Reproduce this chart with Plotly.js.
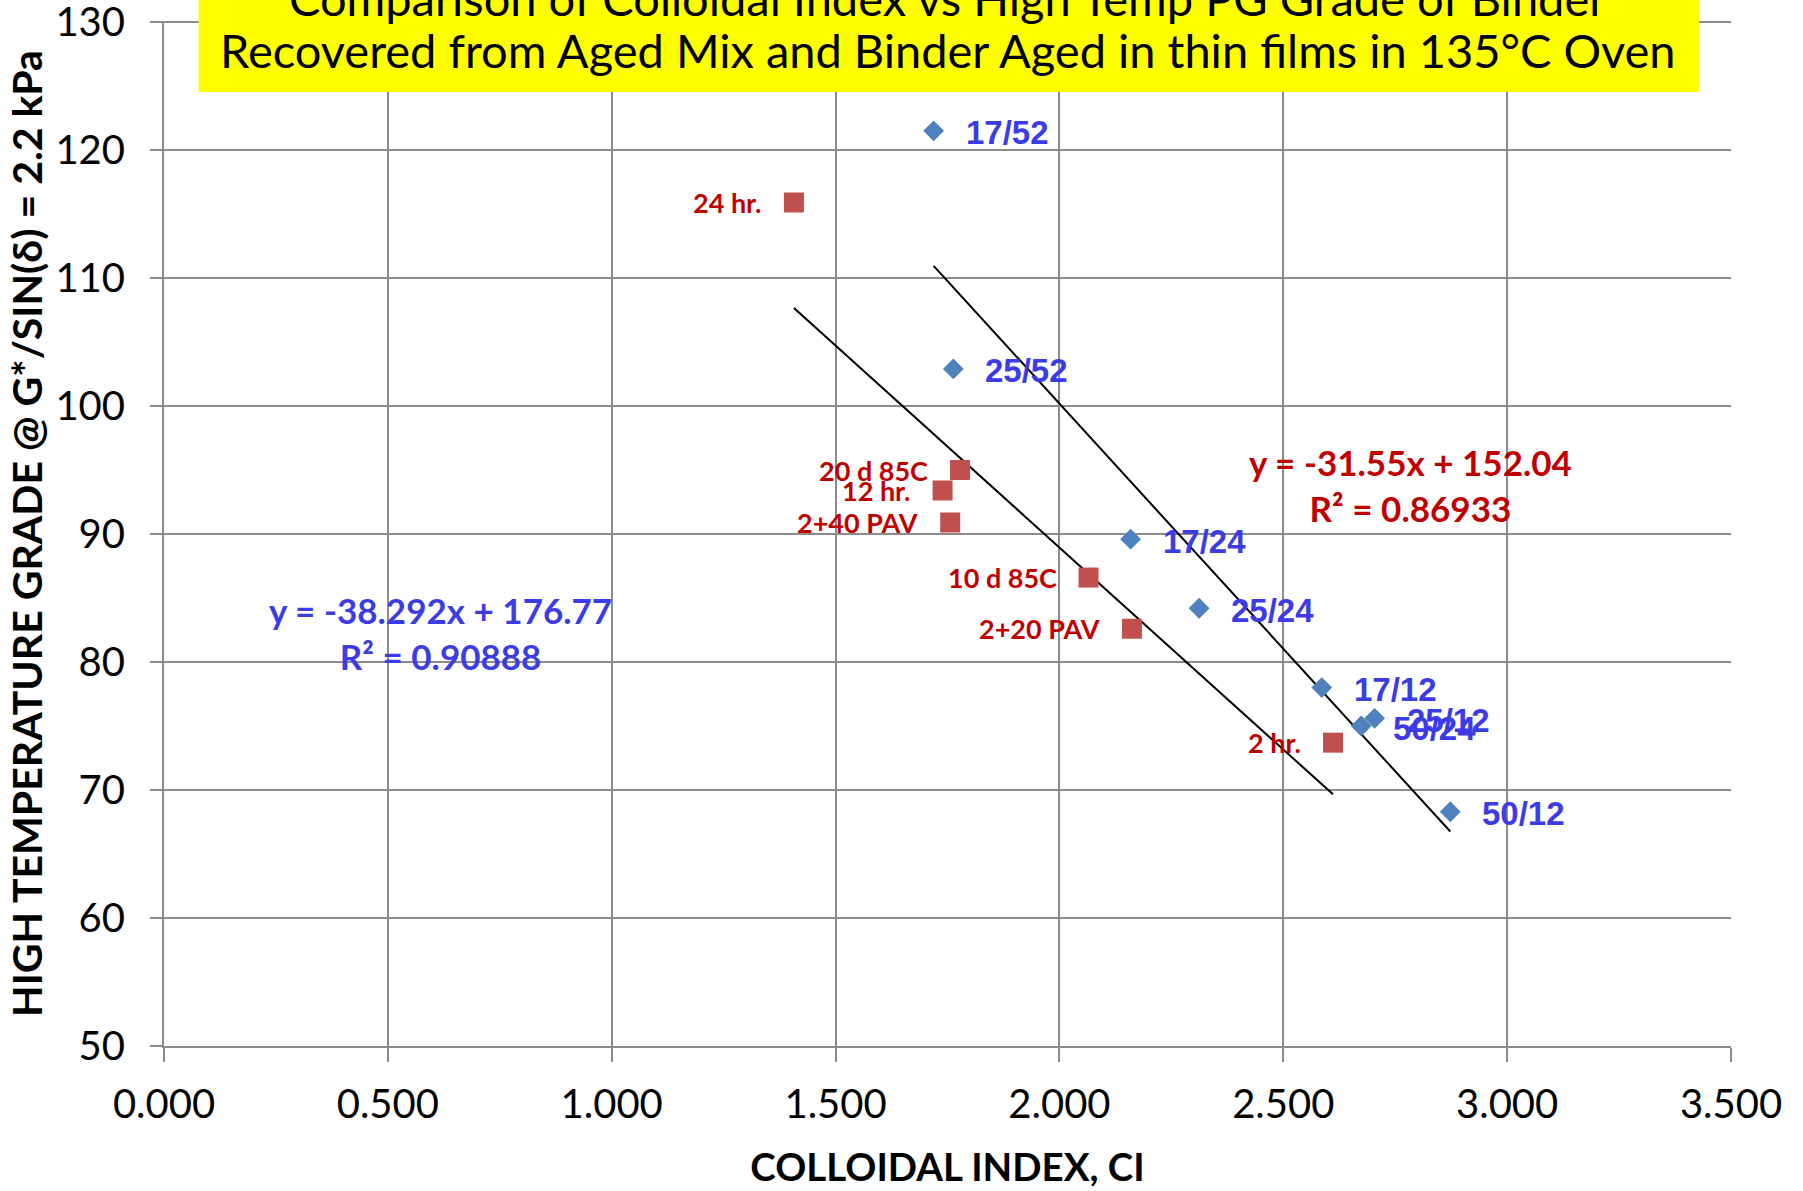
<!DOCTYPE html>
<html><head><meta charset="utf-8">
<script src="https://cdn.plot.ly/plotly-3.0.1.min.js"></script>
<style>html,body{margin:0;padding:0;background:#fff}</style>
</head><body><div id="chart" style="width:1803px;height:1191px"></div>
<script>
// ---- data ----
const blueLabels = ['17/52', '25/52', '17/24', '25/24', '17/12', '25/12', '50/24', '50/12'];
const blueX = [1.719, 1.763, 2.159, 2.312, 2.586, 2.704, 2.674, 2.873];
const blueY = [121.5, 102.9, 89.6, 84.2, 78.0, 75.6, 75.0, 68.3];

const redLabels = ['24 hr.', '20 d 85C', '12 hr.', '2+40 PAV', '10 d 85C', '2+20 PAV', '2 hr.'];
const redX = [1.407, 1.778, 1.739, 1.756, 2.065, 2.162, 2.611];
const redY = [115.9, 95.0, 93.4, 90.9, 86.6, 82.6, 73.7];

const blueSlope = -38.292, blueIntercept = 176.77, blueR2 = '0.90888';
const redSlope = -31.55, redIntercept = 152.04, redR2 = '0.86933';

const xTickVals = [0, 0.5, 1.0, 1.5, 2.0, 2.5, 3.0, 3.5];
const yTickVals = [50, 60, 70, 80, 90, 100, 110, 120, 130];

const titleLine1 = 'Comparison of Colloidal Index vs High Temp PG Grade of Binder';
const titleLine2 = 'Recovered from Aged Mix and Binder Aged in thin films in 135°C Oven';
const xTitle = 'COLLOIDAL INDEX, CI';
const yTitle = 'HIGH TEMPERATURE GRADE @ G*/SIN(δ) = 2.2 kPa';

// ---- styles ----
const BLUE_MK = '#4F81BD', RED_MK = '#C0504D';
const BLUE_TX = '#3C3CE6', RED_TX = '#C00000';
const GRID = '#8C8C8C';
const CAL = 'Lato, "Open Sans", sans-serif';
const ARL = '"Liberation Sans", Arial, sans-serif';

function fitLine(xs, m, b) {
  const x0 = Math.min(...xs), x1 = Math.max(...xs);
  return {x: [x0, x1], y: [m * x0 + b, m * x1 + b]};
}
const bl = fitLine(blueX, blueSlope, blueIntercept);
const rl = fitLine(redX, redSlope, redIntercept);

const traces = [
  {x: bl.x, y: bl.y, mode: 'lines', line: {color: '#000', width: 2}, hoverinfo: 'skip', showlegend: false},
  {x: rl.x, y: rl.y, mode: 'lines', line: {color: '#000', width: 2}, hoverinfo: 'skip', showlegend: false},
  {x: redX, y: redY, mode: 'markers', marker: {symbol: 'square', size: 20, color: RED_MK}, showlegend: false},
  {x: blueX, y: blueY, mode: 'markers', marker: {symbol: 'diamond', size: 16, color: BLUE_MK}, showlegend: false}
];

const annotations = [];
blueLabels.forEach((t, i) => annotations.push({
  x: blueX[i], y: blueY[i], xref: 'x', yref: 'y', text: t, showarrow: false,
  xanchor: 'left', yanchor: 'middle', xshift: 30, yshift: -2,
  font: {family: ARL, size: 33, color: BLUE_TX, weight: 'bold'}
}));
redLabels.forEach((t, i) => annotations.push({
  x: redX[i], y: redY[i], xref: 'x', yref: 'y', text: t, showarrow: false,
  xanchor: 'right', yanchor: 'middle', xshift: -30,
  font: {family: CAL, size: 27, color: RED_TX, weight: 'bold'}
}));
annotations.push({
  x: 2.785, y: 93.85, xref: 'x', yref: 'y', showarrow: false, align: 'center',
  text: 'y = ' + redSlope + 'x + ' + redIntercept.toFixed(2) + '<br>R² = ' + redR2,
  font: {family: CAL, size: 35, color: RED_TX, weight: 'bold'}
});
annotations.push({
  x: 0.618, y: 82.3, xref: 'x', yref: 'y', showarrow: false, align: 'center',
  text: 'y = ' + blueSlope + 'x + ' + blueIntercept + '<br>R² = ' + blueR2,
  font: {family: CAL, size: 35, color: BLUE_TX, weight: 'bold'}
});
annotations.push({
  x: 0.5, y: 1.0224, xref: 'paper', yref: 'paper', xanchor: 'center', yanchor: 'middle',
  text: titleLine1, showarrow: false, font: {family: CAL, size: 47, color: '#000'}
});
annotations.push({
  x: 0.5, y: 0.9717, xref: 'paper', yref: 'paper', xanchor: 'center', yanchor: 'middle',
  text: titleLine2, showarrow: false, font: {family: CAL, size: 47, color: '#000'}
});

const layout = {
  width: 1803, height: 1191,
  margin: {l: 164, r: 72, t: 21, b: 145, pad: 0},
  paper_bgcolor: '#fff', plot_bgcolor: '#fff',
  showlegend: false,
  xaxis: {
    range: [0, 3.5], tickvals: xTickVals, tickformat: '.3f',
    showgrid: true, gridcolor: GRID, gridwidth: 2,
    showline: true, linecolor: GRID, linewidth: 2,
    ticks: 'outside', ticklen: 14, tickwidth: 2, tickcolor: GRID,
    tickfont: {family: CAL, size: 40, color: '#000'},
    ticklabelstandoff: 8, ticklabeloverflow: 'allow',
    zeroline: false,
    title: {text: xTitle, standoff: 28, font: {family: CAL, size: 38.5, color: '#000', weight: 'bold'}}
  },
  yaxis: {
    range: [50, 130.08], tickvals: yTickVals,
    showgrid: true, gridcolor: GRID, gridwidth: 2,
    showline: true, linecolor: GRID, linewidth: 2,
    ticks: 'outside', ticklen: 12, tickwidth: 2, tickcolor: GRID,
    tickfont: {family: CAL, size: 40, color: '#000'},
    ticklabelstandoff: 17, ticklabeloverflow: 'allow',
    zeroline: false,
    title: {text: yTitle, standoff: 0, font: {family: CAL, size: 41, color: '#000', weight: 'bold'}}
  },
  shapes: [{
    type: 'rect', xref: 'paper', yref: 'paper', layer: 'above',
    x0: 0.0221, x1: 0.9797, y0: 0.9307, y1: 1.05,
    fillcolor: '#FFFF00', line: {width: 0}
  }],
  annotations: annotations
};

Plotly.newPlot('chart', traces, layout, {staticPlot: true, displayModeBar: false});
</script></body></html>
